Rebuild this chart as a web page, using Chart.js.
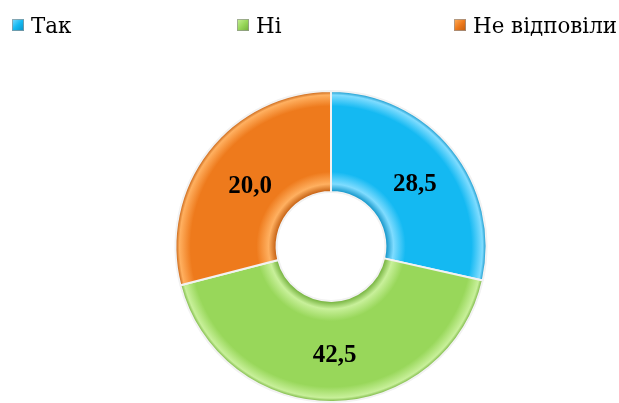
<!DOCTYPE html>
<html>
<head>
<meta charset="utf-8">
<script src="https://cdn.jsdelivr.net/npm/chart.js@4.4.0/dist/chart.umd.min.js"></script>
<style>
  html, body { margin: 0; padding: 0; background: #fff; overflow: hidden; }
  #wrap { width: 619px; height: 403px; }
</style>
</head>
<body>
<div id="wrap"><canvas id="ringChart" width="619" height="403"></canvas></div>
<script>
  // categories and values
  const categories = ['Так', 'Ні', 'Не відповіли'];
  const shares = [28.5, 42.5, 29.0];          // slice sizes (angles in the picture)
  const valueLabels = ['28,5', '42,5', '20,0'];  // numbers printed on the slices
  const baseColors = ['#14b9f2', '#98d75a', '#ee7a1c'];
  const lightColors = ['#7fdcff', '#c8f09a', '#ffb060'];
  const darkColors = ['#0a8fc4', '#6fae38', '#c05a0c'];

  // Liberation Serif here has no Cyrillic, DejaVu Serif does
  const LEGEND_FONT = '"DejaVu Serif", serif';
  const VALUE_FONT = '"Liberation Serif", "Times New Roman", serif';

  function ringFill(context) {
    const chart = context.chart;
    const i = context.dataIndex;
    const arc = chart.getDatasetMeta(0).data[i];
    if (!arc || !arc.outerRadius) return baseColors[i];
    const inner = arc.innerRadius, outer = arc.outerRadius;
    const g = chart.ctx.createRadialGradient(arc.x, arc.y, inner, arc.x, arc.y, outer);
    g.addColorStop(0, darkColors[i]);
    g.addColorStop(0.08, lightColors[i]);
    g.addColorStop(0.2, baseColors[i]);
    g.addColorStop(0.85, baseColors[i]);
    g.addColorStop(0.96, lightColors[i]);
    g.addColorStop(1, darkColors[i]);
    return g;
  }

  const legendDrawer = {
    id: 'legendDrawer',
    afterDraw(chart) {
      const ctx = chart.ctx;
      const xs = [12, 237, 454];
      ctx.save();
      ctx.font = '22px ' + LEGEND_FONT;
      ctx.textBaseline = 'alphabetic';
      ctx.textAlign = 'left';
      // squeeze the text, the reference type is tall and narrow
      const sx = Math.min(1, 144 / ctx.measureText(categories[2]).width);
      chart.data.labels.forEach((lab, i) => {
        const x = xs[i], y = 19;
        const g = ctx.createLinearGradient(x, y, x + 12, y + 12);
        g.addColorStop(0, lightColors[i]);
        g.addColorStop(0.5, baseColors[i]);
        g.addColorStop(1, darkColors[i]);
        ctx.fillStyle = g;
        ctx.fillRect(x, y, 12, 12);
        ctx.strokeStyle = 'rgba(150,150,150,0.7)';
        ctx.lineWidth = 1;
        ctx.strokeRect(x + 0.5, y + 0.5, 11, 11);
        ctx.save();
        ctx.translate(x + 19, 33);
        ctx.scale(sx, 1);
        ctx.fillStyle = '#000';
        ctx.fillText(lab, 0, 0);
        ctx.restore();
      });
      ctx.restore();
    }
  };

  const valueDrawer = {
    id: 'valueDrawer',
    afterDatasetsDraw(chart) {
      const ctx = chart.ctx;
      const meta = chart.getDatasetMeta(0);
      ctx.save();
      ctx.font = 'bold 25px ' + VALUE_FONT;
      ctx.textAlign = 'center';
      ctx.textBaseline = 'middle';
      ctx.fillStyle = '#000';
      meta.data.forEach((arc, i) => {
        const p = arc.tooltipPosition();
        ctx.fillText(valueLabels[i], p.x + 2, p.y + 4);
      });
      ctx.restore();
    }
  };

  const chart = new Chart(document.getElementById('ringChart'), {
    type: 'doughnut',
    data: {
      labels: categories,
      datasets: [{
        data: shares,
        backgroundColor: ringFill,
        borderColor: '#f2f2f2',
        borderWidth: 2,
      }],
    },
    options: {
      responsive: false,
      animation: false,
      cutout: '35%',
      layout: { padding: { top: 90, bottom: 0, left: 174, right: 131 } },
      plugins: {
        legend: { display: false },
        tooltip: { enabled: false },
      },
    },
    plugins: [valueDrawer, legendDrawer],
  });

  // second pass so the ring gradients can use the arc sizes
  chart.update();
</script>
</body>
</html>
